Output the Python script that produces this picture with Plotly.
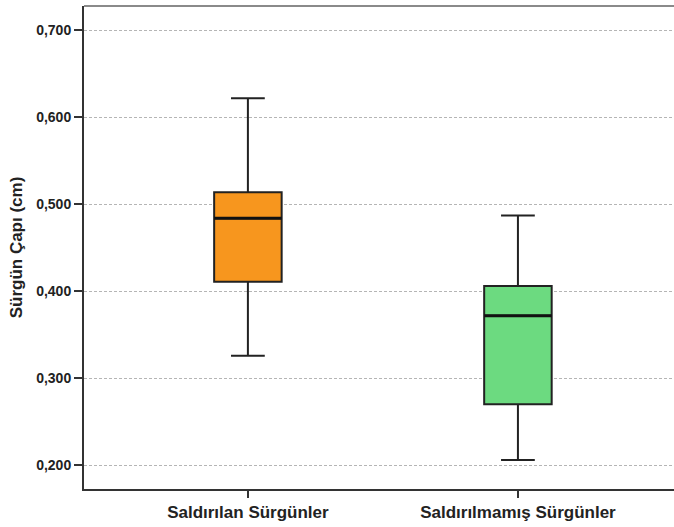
import plotly.graph_objects as go

# Box-plot summary statistics (shoot diameter, cm)
categories = ["Saldırılan Sürgünler", "Saldırılmamış Sürgünler"]
lower_whisker = [0.326, 0.206]
q1_values = [0.411, 0.270]
medians = [0.484, 0.372]
q3_values = [0.514, 0.406]
upper_whisker = [0.622, 0.487]
box_colors = ["#F7961E", "#6CDA80"]
y_ticks = [0.2, 0.3, 0.4, 0.5, 0.6, 0.7]

BOX_W = 0.25

fig = go.Figure()
for i, cat in enumerate(categories):
    fig.add_trace(go.Box(
        x=[i],
        q1=[q1_values[i]],
        median=[medians[i]],
        q3=[q3_values[i]],
        lowerfence=[lower_whisker[i]],
        upperfence=[upper_whisker[i]],
        width=BOX_W,
        whiskerwidth=0.5,
        fillcolor=box_colors[i],
        line=dict(color="#222222", width=2),
        hoverinfo="skip",
        showlegend=False,
    ))
    # heavier median bar
    fig.add_shape(type="line", xref="x", yref="y",
                  x0=i - BOX_W / 2, x1=i + BOX_W / 2,
                  y0=medians[i], y1=medians[i],
                  line=dict(color="#111111", width=3))

# top frame line
fig.add_shape(type="line", xref="paper", yref="paper", x0=0, x1=1, y0=1, y1=1,
              line=dict(color="#8a8a8a", width=2))

fig.update_layout(
    width=674, height=527,
    margin=dict(l=84, r=0, t=6, b=38),
    paper_bgcolor="white", plot_bgcolor="white",
    separators=",.",
    font=dict(family="Liberation Sans, Arial, sans-serif", color="#222222"),
)
fig.update_xaxes(
    range=[-0.607, 1.578],
    tickmode="array", tickvals=[0, 1], ticktext=categories,
    tickfont=dict(size=17, weight="bold", color="#222222"),
    showgrid=False, zeroline=False,
    showline=True, linecolor="#333333", linewidth=2,
    ticks="outside", ticklen=7, tickwidth=1.5, tickcolor="#333333",
)
fig.update_yaxes(
    range=[0.1727, 0.728],
    tickvals=y_ticks, tickformat=".3f",
    tickfont=dict(size=14, weight="bold", color="#222222"),
    showgrid=True, gridcolor="#b5b5b5", gridwidth=1, griddash="3px,2px",
    zeroline=False,
    showline=True, linecolor="#333333", linewidth=2,
    ticks="outside", ticklen=8, tickwidth=1.5, tickcolor="#333333",
    title=dict(text="Sürgün Çapı (cm)", font=dict(size=17, weight="bold", color="#222222"), standoff=9),
)

fig.write_html("out.html")
